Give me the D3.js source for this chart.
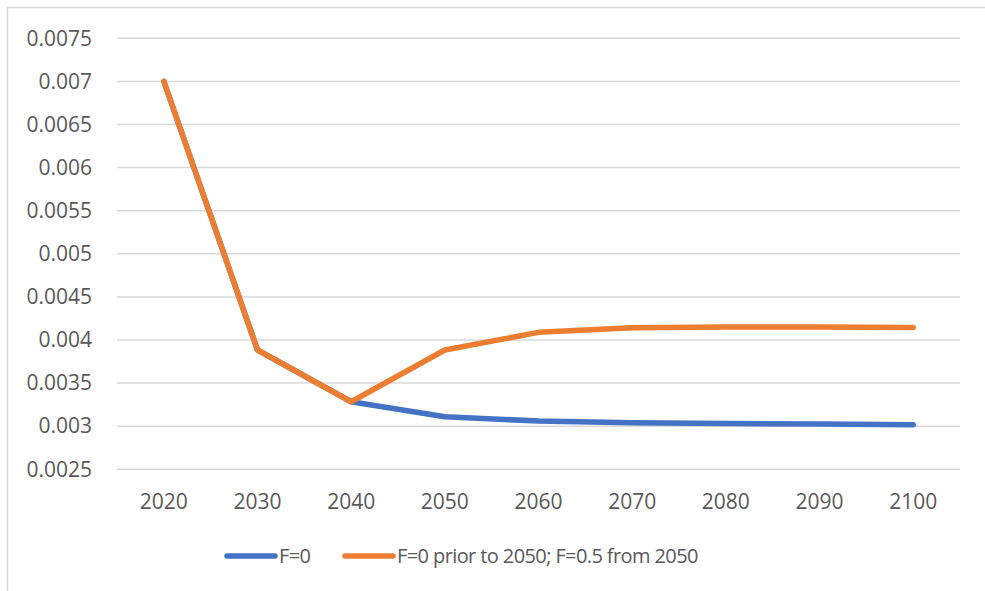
<!DOCTYPE html>
<html>
<head>
<meta charset="utf-8">
<script src="https://cdn.jsdelivr.net/npm/d3@7"></script>
<style>
  html, body { margin: 0; padding: 0; background: #fff; }
  svg { display: block; }
  text { font-family: "Open Sans", "Noto Sans", sans-serif; fill: #595959; }
</style>
</head>
<body>
<svg id="chart" width="985" height="591"></svg>
<script>
// Years on the category axis
const years = ["2020", "2030", "2040", "2050", "2060", "2070", "2080", "2090", "2100"];

// Series values
const seriesF0 = [0.007, 0.003884, 0.003284, 0.00311, 0.00306, 0.003041, 0.003031, 0.003026, 0.003017];
const seriesF05 = [0.007, 0.003884, 0.003284, 0.003884, 0.004089, 0.004143, 0.004152, 0.004152, 0.004145];

// Legend labels
const seriesNames = ["F=0", "F=0 prior to 2050; F=0.5 from 2050"];
const seriesColors = ["#4472C4", "#ED7D31"];

// Value axis ticks
const yTicks = [0.0025, 0.003, 0.0035, 0.004, 0.0045, 0.005, 0.0055, 0.006, 0.0065, 0.007, 0.0075];

const svg = d3.select("#chart");

// Outer chart frame
svg.append("rect")
  .attr("x", 7.5).attr("y", 7.5)
  .attr("width", 1000).attr("height", 600)
  .attr("fill", "none")
  .attr("stroke", "#d9d9d9")
  .attr("stroke-width", 1.5);

const plot = { left: 117, right: 960, top: 38.3, bottom: 469.3 };

const x = d3.scaleBand().domain(years).range([plot.left, plot.right]);
const y = d3.scaleLinear().domain([0.0025, 0.0075]).range([plot.bottom, plot.top]);

// Horizontal gridlines
svg.append("g")
  .selectAll("line")
  .data(yTicks)
  .join("line")
  .attr("x1", plot.left).attr("x2", plot.right)
  .attr("y1", d => y(d)).attr("y2", d => y(d))
  .attr("stroke", "#d9d9d9")
  .attr("stroke-width", 1.5);

// Value axis labels
const yAxis = d3.axisLeft(y)
  .tickValues(yTicks)
  .tickFormat(d => String(+d.toFixed(4)))
  .tickSize(0)
  .tickPadding(0);
const gy = svg.append("g").attr("transform", "translate(92,0)").call(yAxis);
gy.select(".domain").remove();
gy.selectAll("text")
  .attr("font-size", 21)
  .attr("fill", "#595959")
  .style("font-family", "'Open Sans', 'Noto Sans', sans-serif");

// Category axis labels
const xAxis = d3.axisBottom(x).tickSize(0).tickPadding(0);
const gx = svg.append("g").attr("transform", "translate(0,494)").call(xAxis);
gx.select(".domain").remove();
gx.selectAll("text")
  .attr("font-size", 21)
  .attr("fill", "#595959")
  .style("font-family", "'Open Sans', 'Noto Sans', sans-serif");

// Series lines
const line = d3.line()
  .x((d, i) => x(years[i]) + x.bandwidth() / 2)
  .y(d => y(d));

[seriesF0, seriesF05].forEach((vals, k) => {
  svg.append("path")
    .datum(vals)
    .attr("d", line)
    .attr("fill", "none")
    .attr("stroke", seriesColors[k])
    .attr("stroke-width", 5.5)
    .attr("stroke-linecap", "round")
    .attr("stroke-linejoin", "round");
});

// Legend
const legendItems = [
  { x0: 227, x1: 275, tx: 279 },
  { x0: 345, x1: 393, tx: 397 }
];
const legendY = 556;
const lg = svg.append("g");
legendItems.forEach((it, k) => {
  lg.append("line")
    .attr("x1", it.x0).attr("x2", it.x1)
    .attr("y1", legendY).attr("y2", legendY)
    .attr("stroke", seriesColors[k])
    .attr("stroke-width", 5.5)
    .attr("stroke-linecap", "round");
  lg.append("text")
    .attr("x", it.tx).attr("y", legendY)
    .attr("dy", "0.35em")
    .attr("font-size", 20)
    .attr("letter-spacing", "-0.6px")
    .text(seriesNames[k]);
});
</script>
</body>
</html>
